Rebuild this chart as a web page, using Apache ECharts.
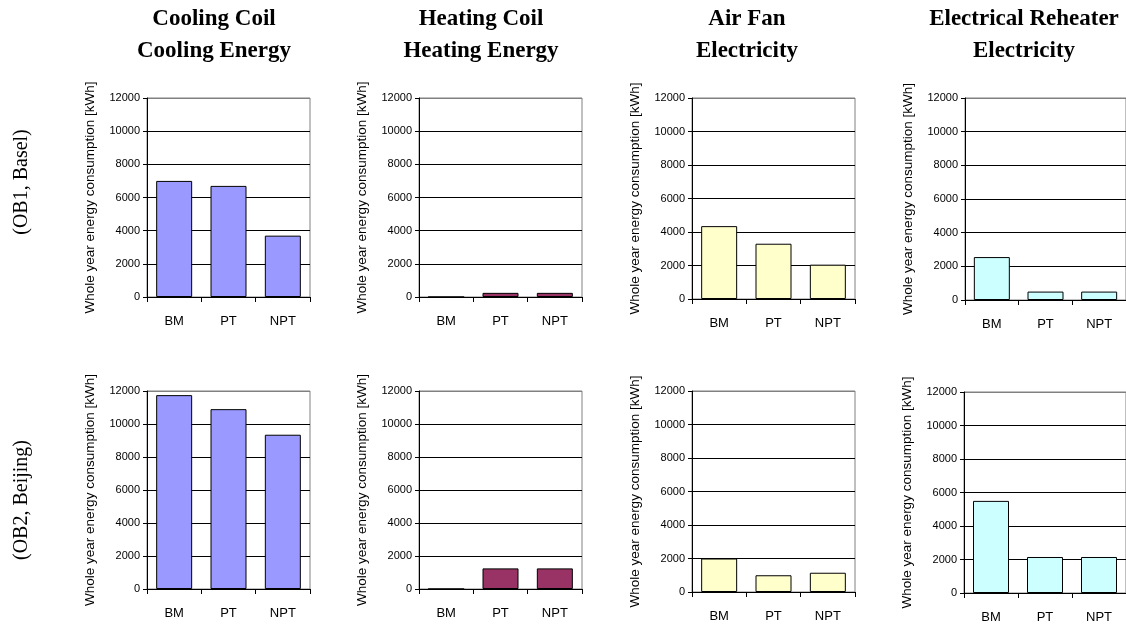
<!DOCTYPE html>
<html>
<head>
<meta charset="utf-8">
<script src="https://cdn.jsdelivr.net/npm/echarts@6/dist/echarts.min.js"></script>
<style>
  html, body { margin: 0; padding: 0; background: #fff; }
  #chart { width: 1126px; height: 633px; }
</style>
</head>
<body>
<div id="chart"></div>
<script>
// categories and values
const categories = ['BM', 'PT', 'NPT']
const coolingBasel = [7000, 6700, 3700]
const heatingBasel = [0, 250, 250]
const fanBasel = [4350, 3300, 2050]
const reheatBasel = [2550, 500, 500]
const coolingBeijing = [11750, 10900, 9350]
const heatingBeijing = [0, 1250, 1250]
const fanBeijing = [2000, 1000, 1150]
const reheatBeijing = [5500, 2150, 2150]

const columnTitles = [
  'Cooling Coil\nCooling Energy',
  'Heating Coil\nHeating Energy',
  'Air Fan\nElectricity',
  'Electrical Reheater\nElectricity'
]
const rowLabels = ['(OB1, Basel)', '(OB2, Beijing)']
const yName = 'Whole year energy consumption [kWh]'
const yMin = 0
const yMax = 12000
const yStep = 2000

const panels = [
  { data: coolingBasel, color: '#9999ff', left: 147, top: 98, height: 199 },
  { data: heatingBasel, color: '#993366', left: 419, top: 98, height: 199 },
  { data: fanBasel, color: '#ffffcc', left: 692, top: 98, height: 201 },
  { data: reheatBasel, color: '#ccffff', left: 965, top: 98, height: 202 },
  { data: coolingBeijing, color: '#9999ff', left: 147, top: 391, height: 198 },
  { data: heatingBeijing, color: '#993366', left: 419, top: 391, height: 198 },
  { data: fanBeijing, color: '#ffffcc', left: 692, top: 391, height: 201 },
  { data: reheatBeijing, color: '#ccffff', left: 964, top: 392, height: 201 }
]

const titleCenters = [209, 476, 742, 1019]

const chart = echarts.init(document.getElementById('chart'))

const option = {
  backgroundColor: '#fff',
  animation: false,
  title: columnTitles.map((t, i) => ({
    text: t,
    left: titleCenters[i],
    top: -2,
    textAlign: 'center',
    textStyle: {
      fontFamily: 'Liberation Serif',
      fontWeight: 'bold',
      fontSize: 23,
      lineHeight: 32,
      color: '#000'
    }
  })),
  graphic: rowLabels.map((t, i) => ({
    type: 'text',
    x: 22,
    y: i === 0 ? 182 : 500,
    rotation: Math.PI / 2,
    style: {
      text: t,
      fontFamily: 'Liberation Serif',
      fontSize: 20,
      fill: '#000',
      align: 'center',
      verticalAlign: 'middle'
    }
  })),
  grid: panels.map(p => ({
    left: p.left,
    top: p.top,
    width: 163,
    height: p.height,
    show: true,
    borderColor: '#808080',
    borderWidth: 1,
    backgroundColor: 'transparent'
  })),
  xAxis: panels.map((p, i) => ({
    type: 'category',
    gridIndex: i,
    data: categories,
    axisLine: { lineStyle: { color: '#000', width: 1 } },
    axisTick: { show: true, length: 5, lineStyle: { color: '#000' } },
    axisLabel: {
      color: '#000',
      fontFamily: 'Liberation Sans',
      fontSize: 13,
      margin: 18
    }
  })),
  yAxis: panels.map((p, i) => ({
    type: 'value',
    gridIndex: i,
    min: yMin,
    max: yMax,
    interval: yStep,
    name: yName,
    nameLocation: 'middle',
    nameGap: 50,
    nameTextStyle: {
      color: '#000',
      fontFamily: 'Liberation Sans',
      fontSize: 13.5
    },
    axisLine: { show: true, lineStyle: { color: '#000', width: 1 } },
    axisTick: { show: true, length: 4, lineStyle: { color: '#000' } },
    axisLabel: {
      color: '#000',
      fontFamily: 'Liberation Sans',
      fontSize: 11,
      margin: 7,
      formatter: v => String(v)
    },
    splitLine: {
      show: true,
      lineStyle: {
        color: ['#000', '#000', '#000', '#000', '#000', '#000', '#808080'],
        width: 1
      }
    }
  })),
  series: panels.map((p, i) => ({
    type: 'bar',
    xAxisIndex: i,
    yAxisIndex: i,
    data: p.data,
    barWidth: 36,
    itemStyle: {
      color: p.color,
      borderColor: '#000',
      borderWidth: 1
    }
  }))
}

chart.setOption(option)
</script>
</body>
</html>
